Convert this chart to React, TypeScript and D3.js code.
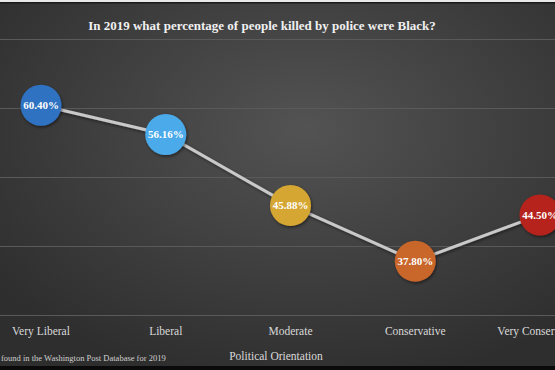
import React, { useEffect, useRef } from "react";
import * as d3 from "d3";

const categories = ["Very Liberal", "Liberal", "Moderate", "Conservative", "Very Conservative"];
const values = [60.4, 56.16, 45.88, 37.8, 44.5];
const colors = ["#2f72c1", "#4caaea", "#d5a632", "#c9662b", "#b6231b"];
const gridTicks = [30, 40, 50, 60, 70];

const App = () => {
  const svgRef = useRef<SVGSVGElement>(null);

  useEffect(() => {
    const svg = d3.select(svgRef.current);
    const width = 555;
    const height = 370;
    svg.selectAll("*").remove();

    const defs = svg.append("defs");
    const bg = defs.append("radialGradient")
      .attr("id", "bg")
      .attr("cx", "55%").attr("cy", "35%").attr("r", "70%");
    bg.append("stop").attr("offset", "0%").attr("stop-color", "#535353");
    bg.append("stop").attr("offset", "100%").attr("stop-color", "#2e2e2e");

    const shadow = defs.append("filter").attr("id", "shadow")
      .attr("x", "-30%").attr("y", "-30%").attr("width", "160%").attr("height", "160%");
    shadow.append("feDropShadow")
      .attr("dx", 1).attr("dy", 1.5).attr("stdDeviation", 1.5)
      .attr("flood-color", "#000").attr("flood-opacity", 0.5);

    svg.append("rect").attr("width", width).attr("height", height).attr("fill", "url(#bg)");
    // frame lines
    svg.append("rect").attr("x", 0).attr("y", 0).attr("width", width).attr("height", 2).attr("fill", "#e8e8e8");
    svg.append("rect").attr("x", 0).attr("y", 2).attr("width", width).attr("height", 1.5).attr("fill", "#1a1a1a");
    svg.append("rect").attr("x", 0).attr("y", 366).attr("width", width).attr("height", 4).attr("fill", "#0a0a0a");

    const x = d3.scalePoint<string>().domain(categories).range([41, 540]);
    const y = d3.scaleLinear().domain([30, 70]).range([315, 39]);

    // gridlines
    svg.append("g")
      .selectAll("line")
      .data(gridTicks)
      .join("line")
      .attr("x1", 0).attr("x2", width)
      .attr("y1", (d) => Math.round(y(d)) + 0.5)
      .attr("y2", (d) => Math.round(y(d)) + 0.5)
      .attr("stroke", "#5a5a5a")
      .attr("stroke-width", 1);

    // title
    svg.append("text")
      .attr("x", 262)
      .attr("y", 30)
      .attr("text-anchor", "middle")
      .style("font-family", "'Liberation Serif', serif")
      .style("font-weight", "bold")
      .style("font-size", "13px")
      .style("fill", "#f0f0f0")
      .text("In 2019 what percentage of people killed by police were Black?");

    const line = d3.line<number>()
      .x((d, i) => x(categories[i]) as number)
      .y((d) => y(d));

    svg.append("path")
      .datum(values)
      .attr("d", line)
      .attr("fill", "none")
      .attr("stroke", "#c9c9c9")
      .attr("stroke-width", 3)
      .attr("filter", "url(#shadow)");

    const pts = svg.append("g")
      .selectAll("g")
      .data(values)
      .join("g")
      .attr("transform", (d, i) => `translate(${x(categories[i])},${y(d)})`);

    pts.append("circle")
      .attr("r", 20.5)
      .attr("fill", (d, i) => colors[i])
      .attr("filter", "url(#shadow)");

    pts.append("text")
      .attr("text-anchor", "middle")
      .attr("dy", "0.35em")
      .style("font-family", "'Liberation Serif', serif")
      .style("font-weight", "bold")
      .style("font-size", "11px")
      .style("fill", "#ffffff")
      .text((d) => d.toFixed(2) + "%");

    // category labels
    svg.append("g")
      .selectAll("text")
      .data(categories)
      .join("text")
      .attr("x", (d) => x(d) as number)
      .attr("y", 335)
      .attr("text-anchor", "middle")
      .style("font-family", "'Liberation Serif', serif")
      .style("font-size", "11.5px")
      .style("fill", "#d9d9d9")
      .text((d) => d);

    svg.append("text")
      .attr("x", 276)
      .attr("y", 360)
      .attr("text-anchor", "middle")
      .style("font-family", "'Liberation Serif', serif")
      .style("font-size", "11.5px")
      .style("fill", "#d9d9d9")
      .text("Political Orientation");

    svg.append("text")
      .attr("x", 1)
      .attr("y", 361)
      .style("font-family", "'Liberation Serif', serif")
      .style("font-size", "8.5px")
      .style("fill", "#cfcfcf")
      .text("found in the Washington Post Database for 2019");
  }, []);

  return (
    <svg
      ref={svgRef}
      width={555}
      height={370}
      style={{ position: "absolute", left: 0, top: 0, display: "block" }}
    ></svg>
  );
};

export default App;
